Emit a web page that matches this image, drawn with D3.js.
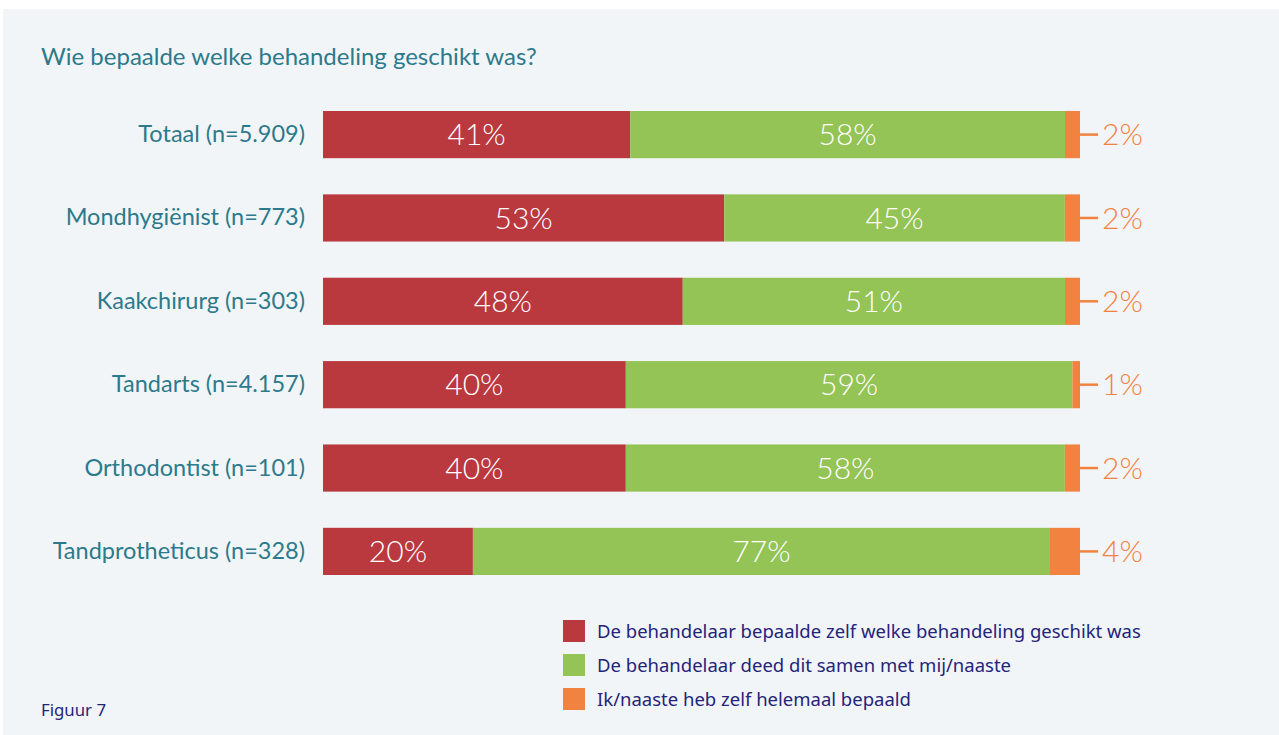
<!DOCTYPE html>
<html>
<head>
<meta charset="utf-8">
<script src="https://cdn.jsdelivr.net/npm/d3@7"></script>
<style>
  html, body { margin: 0; padding: 0; background: #ffffff; }
  svg { display: block; }
</style>
</head>
<body>
<svg id="chart" width="1279" height="735"></svg>
<script>
// Categories (rows, top to bottom)
const categories = [
  "Totaal (n=5.909)",
  "Mondhygiënist (n=773)",
  "Kaakchirurg (n=303)",
  "Tandarts (n=4.157)",
  "Orthodontist (n=101)",
  "Tandprotheticus (n=328)"
];

// Series values in percent, one per row
const behandelaarZelf = [41, 53, 48, 40, 40, 20];
const samen           = [58, 45, 51, 59, 58, 77];
const zelfBepaald     = [2, 2, 2, 1, 2, 4];

const seriesNames = [
  "De behandelaar bepaalde zelf welke behandeling geschikt was",
  "De behandelaar deed dit samen met mij/naaste",
  "Ik/naaste heb zelf helemaal bepaald"
];
const seriesColors = ["#b9393f", "#94c356", "#f1823f"];

const title = "Wie bepaalde welke behandeling geschikt was?";
const figureLabel = "Figuur 7";

const svg = d3.select("#chart");
const W = 1279, H = 735;

// Panel background
svg.append("rect").attr("x", 3).attr("y", 9).attr("width", W - 3).attr("height", H - 9)
  .attr("fill", "#f1f5f8");

svg.append("text").attr("x", 41).attr("y", 65)
  .attr("font-family", "Lato, sans-serif").attr("font-size", 24).attr("font-weight", 400)
  .attr("fill", "#2c7a8b").text(title);

// Row data: each row normalised to its own total so every bar spans the full width
const rows = categories.map((c, i) => {
  const vals = [behandelaarZelf[i], samen[i], zelfBepaald[i]];
  return { category: c, vals, total: d3.sum(vals) };
});

const x = d3.scaleLinear().domain([0, 1]).range([323, 1080]);
const y = d3.scaleBand().domain(categories).range([111, 575]).paddingInner(0.434).paddingOuter(0);

const g = svg.append("g");

rows.forEach(r => {
  let cum = 0;
  const segs = r.vals.map((v, k) => {
    const s = { k, v, x0: cum / r.total, x1: (cum + v) / r.total };
    cum += v;
    return s;
  });
  const row = g.append("g");
  const y0 = y(r.category), bh = y.bandwidth(), cy = y0 + bh / 2;

  row.selectAll("rect").data(segs).join("rect")
    .attr("x", d => x(d.x0))
    .attr("y", y0)
    .attr("width", d => x(d.x1) - x(d.x0))
    .attr("height", bh)
    .attr("fill", d => seriesColors[d.k]);

  // White value labels inside the two large segments
  row.selectAll("text.inner").data(segs.filter(d => d.k < 2)).join("text")
    .attr("class", "inner")
    .attr("x", d => (x(d.x0) + x(d.x1)) / 2)
    .attr("y", cy)
    .attr("dy", "0.36em")
    .attr("text-anchor", "middle")
    .attr("font-family", "Lato, sans-serif").attr("font-weight", 300).attr("font-size", 30)
    .attr("fill", "#ffffff")
    .text(d => d.v + "%");

  // Orange segment: leader line and outside label
  const last = segs[2];
  row.append("line")
    .attr("x1", x(last.x1)).attr("x2", x(last.x1) + 18)
    .attr("y1", cy).attr("y2", cy)
    .attr("stroke", seriesColors[2]).attr("stroke-width", 2.5);
  row.append("text")
    .attr("x", x(last.x1) + 22).attr("y", cy).attr("dy", "0.36em")
    .attr("font-family", "Lato, sans-serif").attr("font-weight", 300).attr("font-size", 30)
    .attr("fill", seriesColors[2])
    .text(last.v + "%");
});

// Category axis labels
const yAxis = d3.axisLeft(y).tickSize(0).tickPadding(17);
const ax = svg.append("g").attr("transform", "translate(322,0)").call(yAxis);
ax.select(".domain").remove();
ax.selectAll("text")
  .attr("font-family", "Lato, sans-serif").attr("font-size", 23.5)
  .attr("fill", "#2c7a8b");

// Legend
const legend = svg.append("g").attr("transform", "translate(563,620)");
const li = legend.selectAll("g").data(seriesNames).join("g")
  .attr("transform", (d, i) => `translate(0,${i * 34})`);
li.append("rect").attr("width", 22).attr("height", 22).attr("fill", (d, i) => seriesColors[i]);
li.append("text").attr("x", 34).attr("y", 11).attr("dy", "0.36em")
  .attr("font-family", "'Noto Sans', sans-serif").attr("font-size", 18.5)
  .attr("fill", "#25237a").text(d => d);

svg.append("text").attr("x", 41).attr("y", 716)
  .attr("font-family", "'Noto Sans', sans-serif").attr("font-size", 16.8)
  .attr("fill", "#25237a").text(figureLabel);
</script>
</body>
</html>
